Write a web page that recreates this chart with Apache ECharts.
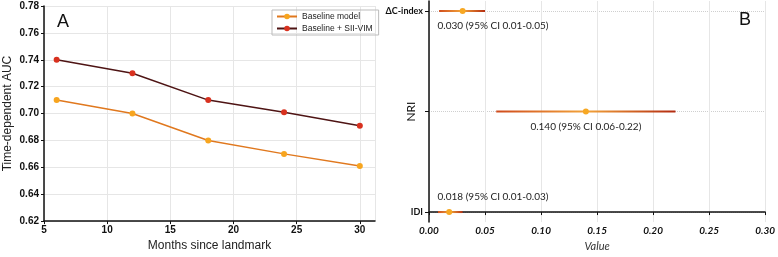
<!DOCTYPE html>
<html>
<head>
<meta charset="utf-8">
<script src="https://cdn.jsdelivr.net/npm/echarts@6/dist/echarts.min.js"></script>
<style>
  html, body { margin: 0; padding: 0; background: #fff; }
  #chart { width: 778px; height: 257px; }
</style>
</head>
<body>
<div id="chart"></div>
<script>
// panel A data
const months = [6, 12, 18, 24, 30]
const baselineAuc = [0.710, 0.700, 0.680, 0.670, 0.661]
const siiVimAuc = [0.740, 0.730, 0.710, 0.701, 0.691]

// panel B data (row 0 = bottom)
const metrics = ['IDI', 'NRI', 'ΔC-index']
const estimates = [0.018, 0.140, 0.030]
const ciLow = [0.008, 0.060, 0.009]
const ciHigh = [0.030, 0.220, 0.050]
const ciText = ['0.018 (95% CI 0.01-0.03)', '0.140 (95% CI 0.06-0.22)', '0.030 (95% CI 0.01-0.05)']

const font = 'Lato'
const fontA = 'Liberation Sans'
const gridLine = { show: true, lineStyle: { color: '#e6e6e6', width: 1 } }
const axisLine = { show: true, lineStyle: { color: '#111', width: 1.5 } }

const chart = echarts.init(document.getElementById('chart'))

const forestData = metrics.map((m, i) => [ciLow[i], ciHigh[i], estimates[i], i])

function renderForest(params, api) {
  const i = api.value(3)
  const lo = api.coord([api.value(0), i])
  const hi = api.coord([api.value(1), i])
  const est = api.coord([api.value(2), i])
  const left = params.coordSys.x
  const below = i !== 0
  const tx = Math.max(est[0], left + 64)
  return {
    type: 'group',
    children: [
      {
        type: 'line',
        shape: { x1: lo[0], y1: lo[1], x2: hi[0], y2: hi[1] },
        style: {
          lineWidth: 2,
          stroke: new echarts.graphic.LinearGradient(0, 0, 1, 0, [
            { offset: 0, color: '#cf4a1c' },
            { offset: 0.5, color: '#f2a33a' },
            { offset: 1, color: '#b2280f' }
          ])
        }
      },
      {
        type: 'circle',
        shape: { cx: est[0], cy: est[1], r: 3 },
        style: { fill: '#f7a823' }
      },
      {
        type: 'text',
        x: tx,
        y: est[1] + (below ? 15 : -15),
        style: {
          text: ciText[i],
          fontFamily: font,
          fontSize: 10,
          fill: '#222',
          align: 'center',
          verticalAlign: 'middle'
        }
      }
    ]
  }
}

const option = {
  animation: false,
  textStyle: { fontFamily: font },
  title: [
    { text: 'A', left: 52, top: 8, textStyle: { fontSize: 18, fontWeight: 'normal', color: '#111', fontFamily: fontA } },
    { text: 'B', left: 734, top: 6, textStyle: { fontSize: 18, fontWeight: 'normal', color: '#111', fontFamily: fontA } }
  ],
  legend: {
    left: 272,
    top: 10,
    orient: 'vertical',
    itemGap: 3,
    itemWidth: 20,
    itemHeight: 7,
    padding: [2, 6, 2, 4],
    borderColor: '#bbb',
    borderWidth: 1,
    textStyle: { fontSize: 8.5, color: '#222', fontFamily: fontA },
    data: ['Baseline model', 'Baseline + SII-VIM']
  },
  grid: [
    { left: 44, right: 403, top: 6, bottom: 29 },
    { left: 429, right: 11, top: 1, bottom: 29 }
  ],
  xAxis: [
    {
      gridIndex: 0,
      type: 'value',
      min: 5,
      max: 31.2,
      interval: 5,
      name: 'Months since landmark',
      nameLocation: 'middle',
      nameGap: 16,
      nameTextStyle: { fontSize: 12, color: '#222', fontFamily: fontA },
      axisLine,
      axisTick: { show: true, length: 3, lineStyle: { color: '#111' } },
      axisLabel: { fontSize: 10, color: '#111', fontWeight: 'bold', fontFamily: fontA, margin: 4, showMaxLabel: false },
      splitLine: gridLine
    },
    {
      gridIndex: 1,
      type: 'value',
      min: 0,
      max: 0.3,
      interval: 0.05,
      name: 'Value',
      nameLocation: 'middle',
      nameGap: 17,
      nameTextStyle: { fontSize: 11, color: '#333', fontStyle: 'italic' },
      axisLine,
      axisTick: { show: true, length: 3, lineStyle: { color: '#111' } },
      axisLabel: {
        fontSize: 10, color: '#111', fontWeight: 'bold', fontStyle: 'italic', margin: 4,
        formatter: v => v.toFixed(2)
      },
      splitLine: gridLine
    }
  ],
  yAxis: [
    {
      gridIndex: 0,
      type: 'value',
      min: 0.62,
      max: 0.78,
      interval: 0.02,
      name: 'Time-dependent AUC',
      nameLocation: 'middle',
      nameGap: 30,
      nameMoveOverlap: false,
      nameTextStyle: { fontSize: 12, color: '#222', fontFamily: fontA },
      axisLine,
      axisTick: { show: true, length: 3, lineStyle: { color: '#111' } },
      axisLabel: { fontSize: 10, color: '#111', fontWeight: 'bold', fontFamily: fontA, margin: 5, formatter: v => v.toFixed(2) },
      splitLine: gridLine
    },
    {
      gridIndex: 1,
      type: 'value',
      min: -0.1,
      max: 2.1,
      name: 'NRI',
      nameLocation: 'middle',
      nameGap: 12,
      nameMoveOverlap: false,
      nameTextStyle: { fontSize: 12, color: '#111' },
      axisLine,
      axisTick: { show: true, length: 4, customValues: [0, 1, 2], lineStyle: { color: '#111' } },
      axisLabel: {
        customValues: [0, 2],
        fontSize: 9, color: '#111', fontWeight: 'bold', margin: 6,
        formatter: v => metrics[Math.round(v)]
      },
      splitLine: { show: true, lineStyle: { color: '#cfcfcf', type: 'dotted' } }
    }
  ],
  series: [
    {
      name: 'Baseline model',
      type: 'line',
      xAxisIndex: 0,
      yAxisIndex: 0,
      data: months.map((m, i) => [m, baselineAuc[i]]),
      symbol: 'circle',
      symbolSize: 6,
      itemStyle: { color: '#f7a51f' },
      lineStyle: { color: '#e0781e', width: 1.5 }
    },
    {
      name: 'Baseline + SII-VIM',
      type: 'line',
      xAxisIndex: 0,
      yAxisIndex: 0,
      data: months.map((m, i) => [m, siiVimAuc[i]]),
      symbol: 'circle',
      symbolSize: 6,
      itemStyle: { color: '#d8311f' },
      lineStyle: { color: '#4e1414', width: 1.5 }
    },
    {
      type: 'custom',
      xAxisIndex: 1,
      yAxisIndex: 1,
      renderItem: renderForest,
      data: forestData
    }
  ]
}

chart.setOption(option)
</script>
</body>
</html>
